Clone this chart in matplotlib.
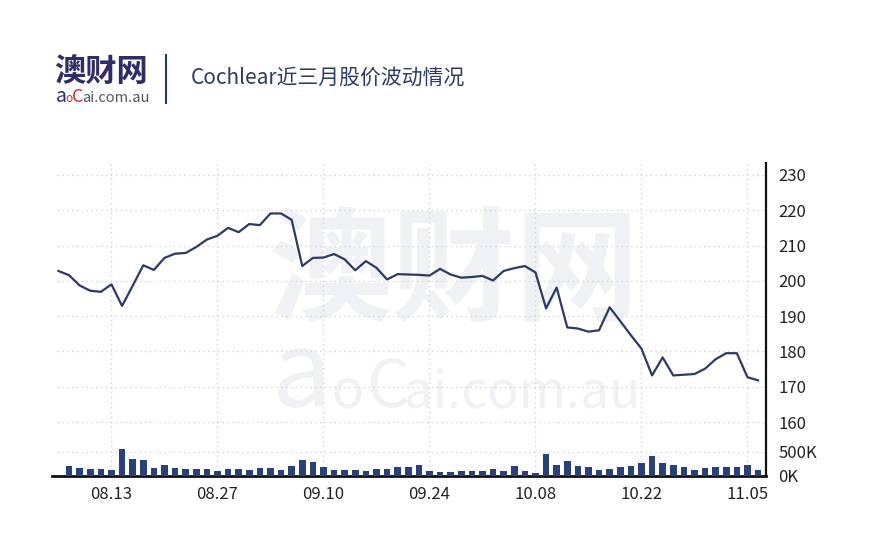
import matplotlib
matplotlib.use("Agg")
import matplotlib.pyplot as plt
import numpy as np

plt.rcParams['font.family'] = ['Noto Sans CJK SC', 'DejaVu Sans']

# daily close, 06.08 - 06.11 (trading days)
price = [202.8, 201.6, 198.7, 197.2, 196.9, 199.0, 192.9, 198.6, 204.4, 203.1,
         206.5, 207.7, 207.9, 209.6, 211.7, 212.8, 215.0, 213.8, 216.1, 215.8,
         219.1, 219.1, 217.3, 204.2, 206.5, 206.6, 207.6, 206.1, 203.0, 205.6,
         203.7, 200.4, 201.9, 201.8, 201.7, 201.5, 203.4, 201.8, 200.9, 201.1,
         201.4, 200.1, 202.8, 203.6, 204.2, 202.4, 192.2, 198.1, 186.8, 186.5,
         185.6, 186.0, 192.5, 188.6, 184.6, 180.8, 173.2, 178.3, 173.2, 173.4,
         173.6, 175.1, 177.8, 179.5, 179.5, 172.7, 171.8]

# volume in thousands
volume_k = [0, 206, 171, 151, 144, 117, 549, 356, 336, 171,
            226, 158, 137, 151, 144, 96, 151, 137, 123, 171,
            171, 130, 199, 336, 281, 192, 123, 123, 123, 103,
            137, 144, 185, 185, 233, 100, 89, 72, 96, 103,
            103, 151, 103, 199, 96, 62, 439, 226, 315, 212,
            185, 130, 151, 178, 212, 267, 405, 267, 233, 185,
            130, 164, 192, 185, 185, 233, 123]

tick_idx = [5, 15, 25, 35, 45, 55, 65]
tick_labels = ["08.13", "08.27", "09.10", "09.24", "10.08", "10.22", "11.05"]
price_ticks = [160, 170, 180, 190, 200, 210, 220, 230]
vol_ticks = [0, 500]
vol_labels = ["0K", "500K"]

W, H = 874, 552
fig = plt.figure(figsize=(W / 100, H / 100), dpi=100)
fig.patch.set_facecolor("white")


def fx(x):
    return x / W


def fy(y):
    return 1 - y / H


line_col = "#2c3a66"
bar_col = "#27427a"
grid_col = "#d4d4d4"

ax = fig.add_axes([fx(52), fy(476), (766 - 52) / W, (476 - 163) / H])
x = np.arange(len(price))
ax.set_xlim(-0.61, 66.75)
ax.set_ylim(144.7, 233.4)

# watermark
wm = "#f0f1f4"
ax.text(fx(268), fy(276), "澳财网", transform=fig.transFigure, fontsize=89,
        fontweight="bold", color=wm, va="center", ha="left", zorder=0)
ax.text(fx(272), fy(407), "a", transform=fig.transFigure, fontsize=76,
        color=wm, va="baseline", zorder=0)
ax.text(fx(331), fy(407), "o", transform=fig.transFigure, fontsize=38,
        color=wm, va="baseline", zorder=0)
ax.text(fx(366), fy(407), "C", transform=fig.transFigure, fontsize=48,
        color=wm, va="baseline", zorder=0)
ax.text(fx(404), fy(407), "ai.com.au", transform=fig.transFigure, fontsize=37,
        color=wm, va="baseline", zorder=0)

for p in price_ticks:
    ax.axhline(p, xmin=5 / 714, xmax=1, color=grid_col, lw=1, ls=(0, (1, 2.5)), zorder=1)
for t in tick_idx:
    ax.axvline(t, color=grid_col, lw=1, ls=(0, (1, 2.5)), zorder=1)

ax.plot(x, price, color=line_col, lw=1.6, zorder=3)

ax.set_xticks(tick_idx)
ax.set_xticklabels(tick_labels)
ax.set_yticks(price_ticks)
for s in ["left", "top"]:
    ax.spines[s].set_visible(False)
ax.spines["bottom"].set_linewidth(2)
ax.spines["bottom"].set_color("#111111")
ax.spines["right"].set_linewidth(1.6)
ax.spines["right"].set_color("#111111")

ax2 = ax.twinx()
ax2.set_ylim(0, 6388)
ax2.bar(x, volume_k, width=0.63, color=bar_col, zorder=3)
ax2.axhline(500, xmin=5 / 714, xmax=1, color=grid_col, lw=1, ls=(0, (1, 2.5)), zorder=1)
ax2.set_yticks(vol_ticks)
ax2.set_yticklabels(vol_labels)
ax2.tick_params(axis="y", length=0, pad=9, labelsize=12, labelcolor="#222222")
for s in ax2.spines.values():
    s.set_visible(False)

# twinx moves the price ticks to the left, put them back
ax.yaxis.tick_right()
ax.tick_params(axis="y", length=0, pad=9, labelsize=12, labelcolor="#222222")
ax.tick_params(axis="x", length=0, pad=7, labelsize=12, labelcolor="#222222")

# header
navy = "#2e2d6c"
fig.text(fx(54), fy(72), "澳财网", fontsize=22.5, fontweight="bold", color=navy,
         va="center", ha="left")
fig.text(fx(56), fy(102), "a", fontsize=14, color=navy, va="baseline")
fig.text(fx(65.5), fy(102), "o", fontsize=8.5, color="#d7282f", va="baseline")
fig.text(fx(72), fy(102), "C", fontsize=13, color="#d7282f", va="baseline")
fig.text(fx(82), fy(102), "ai.com.au", fontsize=10.5, color="#555555", va="baseline")
fig.add_artist(plt.Line2D([fx(166), fx(166)], [fy(55), fy(103)], color="#2c3a66", lw=1.5))
fig.text(fx(191), fy(78), "Cochlear近三月股价波动情况", fontsize=15, color="#2c3a66",
         va="center", ha="left")

fig.savefig("out.png", dpi=100)
